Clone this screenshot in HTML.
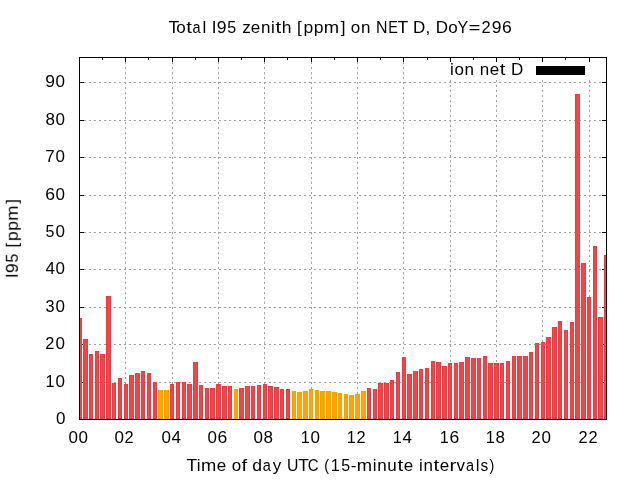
<!DOCTYPE html>
<html><head><meta charset="utf-8"><title>Total I95 zenith</title><style>
html,body{margin:0;padding:0;background:#fff;width:640px;height:480px;overflow:hidden}
svg{display:block}
text{font-family:"Liberation Sans",sans-serif;font-size:17px;fill:#000}
.t{filter:grayscale(1)}
</style></head><body>
<svg width="640" height="480" viewBox="0 0 640 480">
<rect x="0" y="0" width="640" height="480" fill="#fff"/>
<g stroke="#a0a0a0" stroke-width="1" stroke-dasharray="2 3" shape-rendering="crispEdges" fill="none">
<line x1="79" y1="382.5" x2="606" y2="382.5"/>
<line x1="79" y1="344.5" x2="606" y2="344.5"/>
<line x1="79" y1="307.5" x2="606" y2="307.5"/>
<line x1="79" y1="269.5" x2="606" y2="269.5"/>
<line x1="79" y1="232.5" x2="606" y2="232.5"/>
<line x1="79" y1="195.5" x2="606" y2="195.5"/>
<line x1="79" y1="157.5" x2="606" y2="157.5"/>
<line x1="79" y1="120.5" x2="606" y2="120.5"/>
<line x1="79" y1="82.5" x2="606" y2="82.5"/>
<line x1="125.5" y1="57" x2="125.5" y2="419"/>
<line x1="172.5" y1="57" x2="172.5" y2="419"/>
<line x1="218.5" y1="57" x2="218.5" y2="419"/>
<line x1="264.5" y1="57" x2="264.5" y2="419"/>
<line x1="311.5" y1="57" x2="311.5" y2="419"/>
<line x1="357.5" y1="57" x2="357.5" y2="419"/>
<line x1="403.5" y1="57" x2="403.5" y2="419"/>
<line x1="450.5" y1="80" x2="450.5" y2="419"/>
<line x1="496.5" y1="80" x2="496.5" y2="419"/>
<line x1="542.5" y1="80" x2="542.5" y2="419"/>
<line x1="589.5" y1="80" x2="589.5" y2="419"/>
</g>
<g fill="#000" shape-rendering="crispEdges">
<rect x="80" y="419" width="4" height="1"/>
<rect x="602" y="419" width="4" height="1"/>
<rect x="80" y="382" width="4" height="1"/>
<rect x="602" y="382" width="4" height="1"/>
<rect x="80" y="344" width="4" height="1"/>
<rect x="602" y="344" width="4" height="1"/>
<rect x="80" y="307" width="4" height="1"/>
<rect x="602" y="307" width="4" height="1"/>
<rect x="80" y="269" width="4" height="1"/>
<rect x="602" y="269" width="4" height="1"/>
<rect x="80" y="232" width="4" height="1"/>
<rect x="602" y="232" width="4" height="1"/>
<rect x="80" y="195" width="4" height="1"/>
<rect x="602" y="195" width="4" height="1"/>
<rect x="80" y="157" width="4" height="1"/>
<rect x="602" y="157" width="4" height="1"/>
<rect x="80" y="120" width="4" height="1"/>
<rect x="602" y="120" width="4" height="1"/>
<rect x="80" y="82" width="4" height="1"/>
<rect x="602" y="82" width="4" height="1"/>
<rect x="125" y="58" width="1" height="4"/>
<rect x="125" y="415" width="1" height="4"/>
<rect x="172" y="58" width="1" height="4"/>
<rect x="172" y="415" width="1" height="4"/>
<rect x="218" y="58" width="1" height="4"/>
<rect x="218" y="415" width="1" height="4"/>
<rect x="264" y="58" width="1" height="4"/>
<rect x="264" y="415" width="1" height="4"/>
<rect x="311" y="58" width="1" height="4"/>
<rect x="311" y="415" width="1" height="4"/>
<rect x="357" y="58" width="1" height="4"/>
<rect x="357" y="415" width="1" height="4"/>
<rect x="403" y="58" width="1" height="4"/>
<rect x="403" y="415" width="1" height="4"/>
<rect x="450" y="58" width="1" height="4"/>
<rect x="450" y="415" width="1" height="4"/>
<rect x="496" y="58" width="1" height="4"/>
<rect x="496" y="415" width="1" height="4"/>
<rect x="542" y="58" width="1" height="4"/>
<rect x="542" y="415" width="1" height="4"/>
<rect x="589" y="58" width="1" height="4"/>
<rect x="589" y="415" width="1" height="4"/>
<rect x="102" y="58" width="1" height="2"/>
<rect x="102" y="417" width="1" height="2"/>
<rect x="148" y="58" width="1" height="2"/>
<rect x="148" y="417" width="1" height="2"/>
<rect x="195" y="58" width="1" height="2"/>
<rect x="195" y="417" width="1" height="2"/>
<rect x="241" y="58" width="1" height="2"/>
<rect x="241" y="417" width="1" height="2"/>
<rect x="287" y="58" width="1" height="2"/>
<rect x="287" y="417" width="1" height="2"/>
<rect x="334" y="58" width="1" height="2"/>
<rect x="334" y="417" width="1" height="2"/>
<rect x="380" y="58" width="1" height="2"/>
<rect x="380" y="417" width="1" height="2"/>
<rect x="427" y="58" width="1" height="2"/>
<rect x="427" y="417" width="1" height="2"/>
<rect x="473" y="58" width="1" height="2"/>
<rect x="473" y="417" width="1" height="2"/>
<rect x="519" y="58" width="1" height="2"/>
<rect x="519" y="417" width="1" height="2"/>
<rect x="565" y="58" width="1" height="2"/>
<rect x="565" y="417" width="1" height="2"/>
</g>
<g shape-rendering="crispEdges">
<rect x="80" y="318" width="2" height="101" fill="#ec3a3e"/>
<rect x="80" y="319" width="1" height="99" fill="#ef4749"/>
<rect x="83" y="339" width="5" height="80" fill="#ec3a3e"/>
<rect x="84" y="340" width="3" height="78" fill="#ef4749"/>
<rect x="89" y="354" width="4" height="65" fill="#ec3a3e"/>
<rect x="90" y="355" width="2" height="63" fill="#ef4749"/>
<rect x="95" y="351" width="4" height="68" fill="#ec3a3e"/>
<rect x="96" y="352" width="2" height="66" fill="#ef4749"/>
<rect x="100" y="354" width="5" height="65" fill="#ec3a3e"/>
<rect x="101" y="355" width="3" height="63" fill="#ef4749"/>
<rect x="106" y="296" width="5" height="123" fill="#ec3a3e"/>
<rect x="107" y="297" width="3" height="121" fill="#ef4749"/>
<rect x="112" y="383" width="4" height="36" fill="#ec3a3e"/>
<rect x="113" y="384" width="2" height="34" fill="#ef4749"/>
<rect x="118" y="378" width="4" height="41" fill="#ec3a3e"/>
<rect x="119" y="379" width="2" height="39" fill="#ef4749"/>
<rect x="124" y="384" width="4" height="35" fill="#ec3a3e"/>
<rect x="125" y="385" width="2" height="33" fill="#ef4749"/>
<rect x="129" y="375" width="5" height="44" fill="#ec3a3e"/>
<rect x="130" y="376" width="3" height="42" fill="#ef4749"/>
<rect x="135" y="373" width="5" height="46" fill="#ec3a3e"/>
<rect x="136" y="374" width="3" height="44" fill="#ef4749"/>
<rect x="141" y="371" width="4" height="48" fill="#ec3a3e"/>
<rect x="142" y="372" width="2" height="46" fill="#ef4749"/>
<rect x="147" y="373" width="4" height="46" fill="#ec3a3e"/>
<rect x="148" y="374" width="2" height="44" fill="#ef4749"/>
<rect x="153" y="382" width="4" height="37" fill="#ec3a3e"/>
<rect x="154" y="383" width="2" height="35" fill="#ef4749"/>
<rect x="158" y="390" width="5" height="29" fill="#fb9f00"/>
<rect x="159" y="391" width="3" height="27" fill="#ffa500"/>
<rect x="164" y="390" width="5" height="29" fill="#fb9f00"/>
<rect x="165" y="391" width="3" height="27" fill="#ffa500"/>
<rect x="170" y="384" width="4" height="35" fill="#ec3a3e"/>
<rect x="171" y="385" width="2" height="33" fill="#ef4749"/>
<rect x="176" y="382" width="4" height="37" fill="#ec3a3e"/>
<rect x="177" y="383" width="2" height="35" fill="#ef4749"/>
<rect x="182" y="382" width="4" height="37" fill="#ec3a3e"/>
<rect x="183" y="383" width="2" height="35" fill="#ef4749"/>
<rect x="187" y="384" width="5" height="35" fill="#ec3a3e"/>
<rect x="188" y="385" width="3" height="33" fill="#ef4749"/>
<rect x="193" y="362" width="5" height="57" fill="#ec3a3e"/>
<rect x="194" y="363" width="3" height="55" fill="#ef4749"/>
<rect x="199" y="385" width="4" height="34" fill="#ec3a3e"/>
<rect x="200" y="386" width="2" height="32" fill="#ef4749"/>
<rect x="205" y="388" width="4" height="31" fill="#ec3a3e"/>
<rect x="206" y="389" width="2" height="29" fill="#ef4749"/>
<rect x="210" y="388" width="5" height="31" fill="#ec3a3e"/>
<rect x="211" y="389" width="3" height="29" fill="#ef4749"/>
<rect x="216" y="384" width="5" height="35" fill="#ec3a3e"/>
<rect x="217" y="385" width="3" height="33" fill="#ef4749"/>
<rect x="222" y="386" width="5" height="33" fill="#ec3a3e"/>
<rect x="223" y="387" width="3" height="31" fill="#ef4749"/>
<rect x="228" y="386" width="4" height="33" fill="#ec3a3e"/>
<rect x="229" y="387" width="2" height="31" fill="#ef4749"/>
<rect x="234" y="389" width="4" height="30" fill="#fb9f00"/>
<rect x="235" y="390" width="2" height="28" fill="#ffa500"/>
<rect x="239" y="388" width="5" height="31" fill="#ec3a3e"/>
<rect x="240" y="389" width="3" height="29" fill="#ef4749"/>
<rect x="245" y="386" width="5" height="33" fill="#ec3a3e"/>
<rect x="246" y="387" width="3" height="31" fill="#ef4749"/>
<rect x="251" y="386" width="4" height="33" fill="#ec3a3e"/>
<rect x="252" y="387" width="2" height="31" fill="#ef4749"/>
<rect x="257" y="385" width="4" height="34" fill="#ec3a3e"/>
<rect x="258" y="386" width="2" height="32" fill="#ef4749"/>
<rect x="263" y="384" width="4" height="35" fill="#ec3a3e"/>
<rect x="264" y="385" width="2" height="33" fill="#ef4749"/>
<rect x="268" y="386" width="5" height="33" fill="#ec3a3e"/>
<rect x="269" y="387" width="3" height="31" fill="#ef4749"/>
<rect x="274" y="387" width="5" height="32" fill="#ec3a3e"/>
<rect x="275" y="388" width="3" height="30" fill="#ef4749"/>
<rect x="280" y="389" width="4" height="30" fill="#ec3a3e"/>
<rect x="281" y="390" width="2" height="28" fill="#ef4749"/>
<rect x="286" y="389" width="4" height="30" fill="#ec3a3e"/>
<rect x="287" y="390" width="2" height="28" fill="#ef4749"/>
<rect x="292" y="391" width="4" height="28" fill="#fb9f00"/>
<rect x="293" y="392" width="2" height="26" fill="#ffa500"/>
<rect x="297" y="392" width="5" height="27" fill="#fb9f00"/>
<rect x="298" y="393" width="3" height="25" fill="#ffa500"/>
<rect x="303" y="391" width="5" height="28" fill="#fb9f00"/>
<rect x="304" y="392" width="3" height="26" fill="#ffa500"/>
<rect x="309" y="389" width="4" height="30" fill="#fb9f00"/>
<rect x="310" y="390" width="2" height="28" fill="#ffa500"/>
<rect x="315" y="390" width="4" height="29" fill="#fb9f00"/>
<rect x="316" y="391" width="2" height="27" fill="#ffa500"/>
<rect x="320" y="391" width="5" height="28" fill="#fb9f00"/>
<rect x="321" y="392" width="3" height="26" fill="#ffa500"/>
<rect x="326" y="391" width="5" height="28" fill="#fb9f00"/>
<rect x="327" y="392" width="3" height="26" fill="#ffa500"/>
<rect x="332" y="392" width="5" height="27" fill="#fb9f00"/>
<rect x="333" y="393" width="3" height="25" fill="#ffa500"/>
<rect x="338" y="393" width="4" height="26" fill="#fb9f00"/>
<rect x="339" y="394" width="2" height="24" fill="#ffa500"/>
<rect x="344" y="394" width="4" height="25" fill="#fb9f00"/>
<rect x="345" y="395" width="2" height="23" fill="#ffa500"/>
<rect x="349" y="395" width="5" height="24" fill="#fb9f00"/>
<rect x="350" y="396" width="3" height="22" fill="#ffa500"/>
<rect x="355" y="394" width="5" height="25" fill="#fb9f00"/>
<rect x="356" y="395" width="3" height="23" fill="#ffa500"/>
<rect x="361" y="391" width="5" height="28" fill="#fb9f00"/>
<rect x="362" y="392" width="3" height="26" fill="#ffa500"/>
<rect x="367" y="388" width="4" height="31" fill="#ec3a3e"/>
<rect x="368" y="389" width="2" height="29" fill="#ef4749"/>
<rect x="373" y="389" width="4" height="30" fill="#ec3a3e"/>
<rect x="374" y="390" width="2" height="28" fill="#ef4749"/>
<rect x="378" y="383" width="5" height="36" fill="#ec3a3e"/>
<rect x="379" y="384" width="3" height="34" fill="#ef4749"/>
<rect x="384" y="383" width="5" height="36" fill="#ec3a3e"/>
<rect x="385" y="384" width="3" height="34" fill="#ef4749"/>
<rect x="390" y="380" width="4" height="39" fill="#ec3a3e"/>
<rect x="391" y="381" width="2" height="37" fill="#ef4749"/>
<rect x="396" y="372" width="4" height="47" fill="#ec3a3e"/>
<rect x="397" y="373" width="2" height="45" fill="#ef4749"/>
<rect x="402" y="357" width="4" height="62" fill="#ec3a3e"/>
<rect x="403" y="358" width="2" height="60" fill="#ef4749"/>
<rect x="407" y="374" width="5" height="45" fill="#ec3a3e"/>
<rect x="408" y="375" width="3" height="43" fill="#ef4749"/>
<rect x="413" y="371" width="5" height="48" fill="#ec3a3e"/>
<rect x="414" y="372" width="3" height="46" fill="#ef4749"/>
<rect x="419" y="369" width="4" height="50" fill="#ec3a3e"/>
<rect x="420" y="370" width="2" height="48" fill="#ef4749"/>
<rect x="425" y="368" width="4" height="51" fill="#ec3a3e"/>
<rect x="426" y="369" width="2" height="49" fill="#ef4749"/>
<rect x="431" y="361" width="4" height="58" fill="#ec3a3e"/>
<rect x="432" y="362" width="2" height="56" fill="#ef4749"/>
<rect x="436" y="362" width="5" height="57" fill="#ec3a3e"/>
<rect x="437" y="363" width="3" height="55" fill="#ef4749"/>
<rect x="442" y="366" width="5" height="53" fill="#ec3a3e"/>
<rect x="443" y="367" width="3" height="51" fill="#ef4749"/>
<rect x="448" y="363" width="4" height="56" fill="#ec3a3e"/>
<rect x="449" y="364" width="2" height="54" fill="#ef4749"/>
<rect x="454" y="363" width="4" height="56" fill="#ec3a3e"/>
<rect x="455" y="364" width="2" height="54" fill="#ef4749"/>
<rect x="459" y="362" width="5" height="57" fill="#ec3a3e"/>
<rect x="460" y="363" width="3" height="55" fill="#ef4749"/>
<rect x="465" y="357" width="5" height="62" fill="#ec3a3e"/>
<rect x="466" y="358" width="3" height="60" fill="#ef4749"/>
<rect x="471" y="358" width="5" height="61" fill="#ec3a3e"/>
<rect x="472" y="359" width="3" height="59" fill="#ef4749"/>
<rect x="477" y="358" width="4" height="61" fill="#ec3a3e"/>
<rect x="478" y="359" width="2" height="59" fill="#ef4749"/>
<rect x="483" y="356" width="4" height="63" fill="#ec3a3e"/>
<rect x="484" y="357" width="2" height="61" fill="#ef4749"/>
<rect x="488" y="363" width="5" height="56" fill="#ec3a3e"/>
<rect x="489" y="364" width="3" height="54" fill="#ef4749"/>
<rect x="494" y="363" width="5" height="56" fill="#ec3a3e"/>
<rect x="495" y="364" width="3" height="54" fill="#ef4749"/>
<rect x="500" y="363" width="4" height="56" fill="#ec3a3e"/>
<rect x="501" y="364" width="2" height="54" fill="#ef4749"/>
<rect x="506" y="361" width="4" height="58" fill="#ec3a3e"/>
<rect x="507" y="362" width="2" height="56" fill="#ef4749"/>
<rect x="512" y="356" width="4" height="63" fill="#ec3a3e"/>
<rect x="513" y="357" width="2" height="61" fill="#ef4749"/>
<rect x="517" y="356" width="5" height="63" fill="#ec3a3e"/>
<rect x="518" y="357" width="3" height="61" fill="#ef4749"/>
<rect x="523" y="356" width="5" height="63" fill="#ec3a3e"/>
<rect x="524" y="357" width="3" height="61" fill="#ef4749"/>
<rect x="529" y="352" width="4" height="67" fill="#ec3a3e"/>
<rect x="530" y="353" width="2" height="65" fill="#ef4749"/>
<rect x="535" y="343" width="4" height="76" fill="#ec3a3e"/>
<rect x="536" y="344" width="2" height="74" fill="#ef4749"/>
<rect x="541" y="342" width="4" height="77" fill="#ec3a3e"/>
<rect x="542" y="343" width="2" height="75" fill="#ef4749"/>
<rect x="546" y="337" width="5" height="82" fill="#ec3a3e"/>
<rect x="547" y="338" width="3" height="80" fill="#ef4749"/>
<rect x="552" y="327" width="5" height="92" fill="#ec3a3e"/>
<rect x="553" y="328" width="3" height="90" fill="#ef4749"/>
<rect x="558" y="321" width="4" height="98" fill="#ec3a3e"/>
<rect x="559" y="322" width="2" height="96" fill="#ef4749"/>
<rect x="564" y="330" width="4" height="89" fill="#ec3a3e"/>
<rect x="565" y="331" width="2" height="87" fill="#ef4749"/>
<rect x="570" y="322" width="4" height="97" fill="#ec3a3e"/>
<rect x="571" y="323" width="2" height="95" fill="#ef4749"/>
<rect x="575" y="94" width="5" height="325" fill="#ec3a3e"/>
<rect x="576" y="95" width="3" height="323" fill="#ef4749"/>
<rect x="581" y="263" width="5" height="156" fill="#ec3a3e"/>
<rect x="582" y="264" width="3" height="154" fill="#ef4749"/>
<rect x="587" y="297" width="4" height="122" fill="#ec3a3e"/>
<rect x="588" y="298" width="2" height="120" fill="#ef4749"/>
<rect x="593" y="246" width="4" height="173" fill="#ec3a3e"/>
<rect x="594" y="247" width="2" height="171" fill="#ef4749"/>
<rect x="598" y="317" width="5" height="102" fill="#ec3a3e"/>
<rect x="599" y="318" width="3" height="100" fill="#ef4749"/>
<rect x="604" y="255" width="2" height="164" fill="#ec3a3e"/>
<rect x="605" y="256" width="1" height="162" fill="#ef4749"/>
</g>
<rect x="79.5" y="57.5" width="527" height="362" fill="none" stroke="#000" stroke-width="1" shape-rendering="crispEdges"/>
<rect x="536" y="66" width="49" height="9" fill="#000" shape-rendering="crispEdges"/>
<g class="t">
<text transform="translate(168.56 33.00) scale(1.035 1)">T</text>
<text x="176.30" y="33.00">o</text>
<text transform="translate(186.23 33.00) scale(1.200 1)">t</text>
<text transform="translate(192.62 33.00) scale(0.853 1)">a</text>
<text x="202.49" y="33.00">l</text>
<text x="211.75" y="33.00">I</text>
<text transform="translate(216.68 33.00) scale(1.033 1)">9</text>
<text transform="translate(227.34 33.00) scale(0.944 1)">5</text>
<text x="242.17" y="33.00">z</text>
<text x="250.83" y="33.00">e</text>
<text x="260.89" y="33.00">n</text>
<text x="271.05" y="33.00">i</text>
<text transform="translate(275.43 33.00) scale(1.200 1)">t</text>
<text transform="translate(281.72 33.00) scale(1.030 1)">h</text>
<text x="296.95" y="33.00">[</text>
<text transform="translate(303.43 33.00) scale(1.032 1)">p</text>
<text transform="translate(313.65 33.00) scale(1.032 1)">p</text>
<text transform="translate(323.79 33.00) scale(1.081 1)">m</text>
<text x="340.65" y="33.00">]</text>
<text x="350.85" y="33.00">o</text>
<text x="360.92" y="33.00">n</text>
<text transform="translate(376.10 33.00) scale(0.937 1)">N</text>
<text transform="translate(388.15 33.00) scale(0.850 1)">E</text>
<text transform="translate(397.60 33.00) scale(1.035 1)">T</text>
<text x="413.11" y="33.00">D</text>
<text x="425.46" y="33.00">,</text>
<text x="435.75" y="33.00">D</text>
<text x="448.27" y="33.00">o</text>
<text transform="translate(457.54 33.00) scale(0.936 1)">Y</text>
<text transform="translate(468.57 33.00) scale(1.200 1)">=</text>
<text transform="translate(481.62 33.00) scale(0.964 1)">2</text>
<text transform="translate(491.71 33.00) scale(1.033 1)">9</text>
<text transform="translate(501.98 33.00) scale(1.035 1)">6</text>
<text transform="translate(186.56 471.00) scale(1.035 1)">T</text>
<text x="196.70" y="471.00">i</text>
<text transform="translate(201.06 471.00) scale(1.081 1)">m</text>
<text x="216.77" y="471.00">e</text>
<text x="231.74" y="471.00">o</text>
<text transform="translate(241.58 471.00) scale(1.200 1)">f</text>
<text transform="translate(252.34 471.00) scale(1.031 1)">d</text>
<text transform="translate(262.76 471.00) scale(0.853 1)">a</text>
<text x="272.80" y="471.00">y</text>
<text transform="translate(287.12 471.00) scale(0.933 1)">U</text>
<text transform="translate(298.29 471.00) scale(1.035 1)">T</text>
<text transform="translate(307.77 471.00) scale(0.881 1)">C</text>
<text transform="translate(324.37 471.00) scale(0.850 1)">(</text>
<text transform="translate(330.82 471.00) scale(0.955 1)">1</text>
<text transform="translate(341.13 471.00) scale(0.944 1)">5</text>
<text x="350.86" y="471.00">-</text>
<text transform="translate(356.84 471.00) scale(1.081 1)">m</text>
<text x="372.64" y="471.00">i</text>
<text x="377.17" y="471.00">n</text>
<text x="387.32" y="471.00">u</text>
<text transform="translate(397.44 471.00) scale(1.200 1)">t</text>
<text x="403.77" y="471.00">e</text>
<text x="418.89" y="471.00">i</text>
<text x="423.42" y="471.00">n</text>
<text transform="translate(433.48 471.00) scale(1.200 1)">t</text>
<text x="439.80" y="471.00">e</text>
<text transform="translate(449.58 471.00) scale(1.200 1)">r</text>
<text x="456.59" y="471.00">v</text>
<text transform="translate(465.95 471.00) scale(0.853 1)">a</text>
<text x="475.82" y="471.00">l</text>
<text transform="translate(480.38 471.00) scale(0.910 1)">s</text>
<text transform="translate(489.43 471.00) scale(0.850 1)">)</text>
<text x="450.06" y="74.80">i</text>
<text x="454.38" y="74.80">o</text>
<text x="464.45" y="74.80">n</text>
<text x="479.78" y="74.80">n</text>
<text x="489.83" y="74.80">e</text>
<text transform="translate(499.75 74.80) scale(1.200 1)">t</text>
<text x="511.02" y="74.80">D</text>
<g transform="translate(17.8 278.1) rotate(-90)">
<text x="0.02" y="0.00">I</text>
<text transform="translate(4.94 0.00) scale(1.033 1)">9</text>
<text transform="translate(15.60 0.00) scale(0.944 1)">5</text>
<text x="30.51" y="0.00">[</text>
<text transform="translate(36.97 0.00) scale(1.032 1)">p</text>
<text transform="translate(47.21 0.00) scale(1.032 1)">p</text>
<text transform="translate(57.34 0.00) scale(1.081 1)">m</text>
<text x="74.21" y="0.00">]</text>
</g>
<text x="55.90" y="423.70">0</text>
<text transform="translate(45.54 386.70) scale(0.955 1)">1</text>
<text x="55.40" y="386.70">0</text>
<text transform="translate(45.36 348.70) scale(0.964 1)">2</text>
<text x="55.40" y="348.70">0</text>
<text transform="translate(45.61 311.70) scale(0.961 1)">3</text>
<text x="55.40" y="311.70">0</text>
<text x="45.40" y="273.70">4</text>
<text x="55.40" y="273.70">0</text>
<text transform="translate(45.60 236.70) scale(0.944 1)">5</text>
<text x="55.40" y="236.70">0</text>
<text transform="translate(45.23 199.70) scale(1.035 1)">6</text>
<text x="55.40" y="199.70">0</text>
<text x="45.37" y="161.70">7</text>
<text x="55.40" y="161.70">0</text>
<text x="45.40" y="124.70">8</text>
<text x="55.40" y="124.70">0</text>
<text transform="translate(45.19 86.70) scale(1.033 1)">9</text>
<text x="55.40" y="86.70">0</text>
<text x="68.60" y="443.00">0</text>
<text x="78.60" y="443.00">0</text>
<text x="114.60" y="443.00">0</text>
<text transform="translate(124.56 443.00) scale(0.964 1)">2</text>
<text x="161.60" y="443.00">0</text>
<text x="171.60" y="443.00">4</text>
<text x="207.60" y="443.00">0</text>
<text transform="translate(217.43 443.00) scale(1.035 1)">6</text>
<text x="253.60" y="443.00">0</text>
<text x="263.60" y="443.00">8</text>
<text transform="translate(300.74 443.00) scale(0.955 1)">1</text>
<text x="310.60" y="443.00">0</text>
<text transform="translate(346.74 443.00) scale(0.955 1)">1</text>
<text transform="translate(356.56 443.00) scale(0.964 1)">2</text>
<text transform="translate(392.74 443.00) scale(0.955 1)">1</text>
<text x="402.60" y="443.00">4</text>
<text transform="translate(439.74 443.00) scale(0.955 1)">1</text>
<text transform="translate(449.43 443.00) scale(1.035 1)">6</text>
<text transform="translate(485.74 443.00) scale(0.955 1)">1</text>
<text x="495.60" y="443.00">8</text>
<text transform="translate(531.56 443.00) scale(0.964 1)">2</text>
<text x="541.60" y="443.00">0</text>
<text transform="translate(578.56 443.00) scale(0.964 1)">2</text>
<text transform="translate(588.56 443.00) scale(0.964 1)">2</text>
</g>
</svg>
</body></html>
